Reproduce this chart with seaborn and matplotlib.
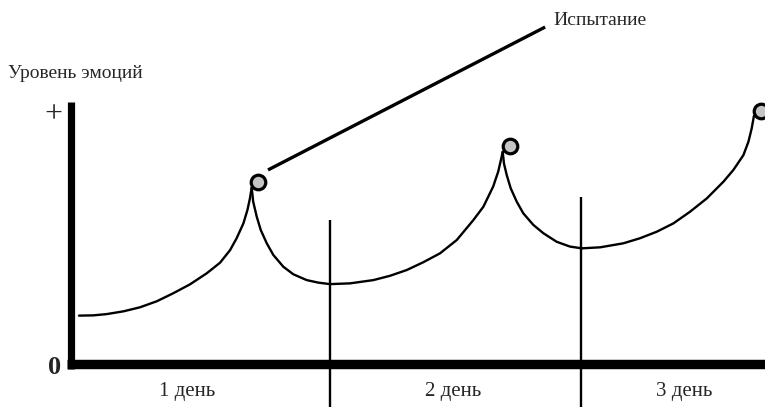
import numpy as np
import pandas as pd
import seaborn as sns
import matplotlib.pyplot as plt

# x: days since start (day boundaries at 1 and 2), y: emotion level (0 .. "+" = 1)
rise1_x = [0.0, 0.057, 0.110, 0.177, 0.243, 0.310, 0.376, 0.442, 0.509, 0.562,
           0.602, 0.628, 0.655, 0.671, 0.681, 0.688]
rise1_y = [0.192, 0.193, 0.198, 0.209, 0.225, 0.249, 0.281, 0.316, 0.360, 0.402,
           0.452, 0.499, 0.558, 0.611, 0.657, 0.700]
fall1_x = [0.688, 0.694, 0.708, 0.724, 0.748, 0.774, 0.814, 0.854, 0.907, 0.953, 1.0]
fall1_y = [0.700, 0.644, 0.585, 0.532, 0.479, 0.433, 0.386, 0.356, 0.333, 0.323, 0.317]
rise2_x = [1.0, 1.080, 1.173, 1.239, 1.306, 1.372, 1.438, 1.505, 1.571, 1.611,
           1.650, 1.670, 1.684, 1.688]
rise2_y = [0.317, 0.320, 0.333, 0.350, 0.373, 0.404, 0.439, 0.492, 0.571, 0.624,
           0.704, 0.763, 0.823, 0.842]
fall2_x = [1.688, 1.693, 1.704, 1.720, 1.744, 1.770, 1.810, 1.850, 1.903, 1.956, 2.003]
fall2_y = [0.842, 0.796, 0.750, 0.697, 0.644, 0.598, 0.552, 0.519, 0.485, 0.466, 0.459]
rise3_x = [2.003, 2.076, 2.169, 2.235, 2.302, 2.368, 2.434, 2.501, 2.567, 2.607,
           2.647, 2.667, 2.680, 2.686, 2.689]
rise3_y = [0.459, 0.463, 0.479, 0.499, 0.525, 0.558, 0.604, 0.657, 0.723, 0.770,
           0.829, 0.882, 0.935, 0.968, 0.985]

# trial markers (small circles at every peak)
trial_x = [0.713, 1.717, 2.717]
trial_y = [0.722, 0.865, 1.004]

# day separators and labels
sep_x = [1.0, 2.0]
sep_top = [0.571, 0.663]
day_labels = ["1 день", "2 день", "3 день"]
day_label_x = [0.43, 1.49, 2.41]

segments = [(rise1_x, rise1_y), (fall1_x, fall1_y), (rise2_x, rise2_y),
            (fall2_x, fall2_y), (rise3_x, rise3_y)]
rows = []
for i, (xs, ys) in enumerate(segments):
    for xv, yv in zip(xs, ys):
        rows.append({"day": xv, "level": yv, "seg": i})
curve = pd.DataFrame(rows)
trials = pd.DataFrame({"day": trial_x, "level": trial_y})

sns.set_style("white")
plt.rcParams["font.family"] = ["Liberation Serif", "DejaVu Serif"]

fig = plt.figure(figsize=(7.65, 4.07), dpi=100)
ax = fig.add_axes([0, 0, 1, 1])
ax.set_xlim(-0.3147, 2.733)
ax.set_ylim(-0.1706, 1.4444)
ax.axis("off")

# axes drawn as thick lines
ax.plot([-0.032, -0.032], [-0.02, 1.04], color="black", lw=5.2, solid_capstyle="butt")
ax.plot([-0.048, 2.8], [0, 0], color="black", lw=6.8, solid_capstyle="butt")

# day separators
for sx, st in zip(sep_x, sep_top):
    ax.plot([sx, sx], [st, -0.2], color="black", lw=1.7, solid_capstyle="butt")

sns.lineplot(data=curve, x="day", y="level", units="seg", estimator=None,
             sort=False, color="black", lw=1.7, ax=ax, legend=False)

# leader line to the label
ax.plot([0.753, 1.857], [0.770, 1.337], color="black", lw=2.4, solid_capstyle="butt")

sns.scatterplot(data=trials, x="day", y="level", s=110, color="#c4c4c4",
                edgecolor="black", linewidth=2.3, ax=ax, zorder=5, clip_on=False)

ax.text(1.888, 1.365, "Испытание", fontsize=14, ha="left", va="center")
ax.text(-0.283, 1.152, "Уровень эмоций", fontsize=14, ha="left", va="center")
ax.text(-0.100, 0.988, "+", fontsize=23, ha="center", va="center")
ax.text(-0.096, -0.012, "0", fontsize=19, fontweight="bold", ha="center", va="center")
for lx, lab in zip(day_label_x, day_labels):
    ax.text(lx, -0.111, lab, fontsize=15, ha="center", va="center")

ax.set_xlabel("")
ax.set_ylabel("")
fig.savefig("out.png", dpi=100)
